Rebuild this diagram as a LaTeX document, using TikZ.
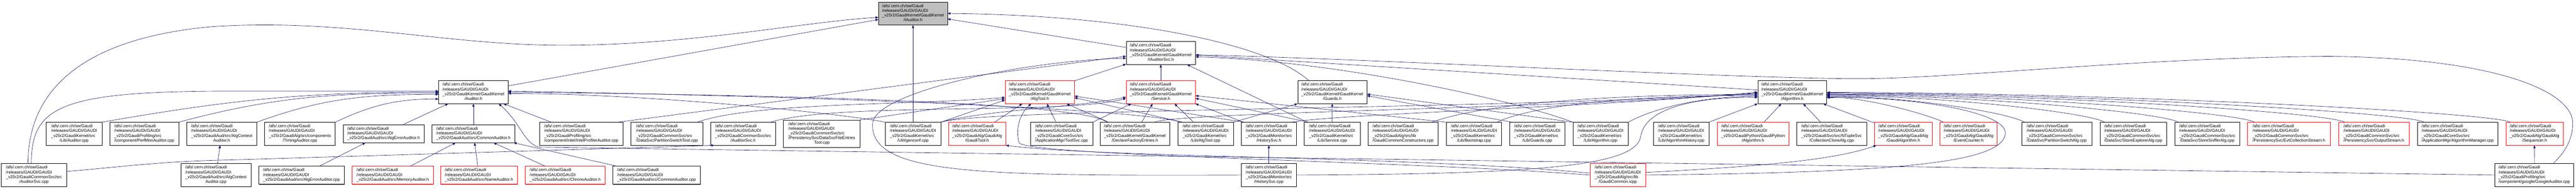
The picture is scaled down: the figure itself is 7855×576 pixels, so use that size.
\documentclass[tikz,border=0pt]{standalone}
\usepackage{fontspec}
\setmainfont{Liberation Sans}
\usetikzlibrary{arrows.meta,shadows}
\definecolor{edgeblue}{RGB}{25,25,112}
\definecolor{boxred}{RGB}{255,0,0}
\newcommand{\gfile}[2]{\begin{tabular}{@{}l@{}}/afs/.cern.ch/sw/Gaudi\\/releases/GAUDI/GAUDI\\\_v25r2/#1\\\multicolumn{1}{@{}c@{}}{#2}\end{tabular}}
\newcommand{\gshort}[1]{\begin{tabular}{@{}l@{}}/afs/.cern.ch/sw/Gaudi\\/releases/GAUDI/GAUDI\\\_v25r2/#1\end{tabular}}

\begin{document}
\begin{tikzpicture}[x=1pt, y=1pt,
        gbox/.style={fill=white, line width=0.8pt, inner sep=0pt, minimum height=70pt,
            font=\fontsize{12.8}{14.4}\selectfont},
        incl/.style={gbox, draw=black, drop shadow={shadow xshift=0.8pt, shadow yshift=-1.6pt, fill=black!60, opacity=1}},
        trunc/.style={gbox, draw=boxred, drop shadow={shadow xshift=0.8pt, shadow yshift=-1.6pt, fill=boxred!60, opacity=1}},
        cur/.style={incl, fill=black!25},
        tline/.style={minimum height=55pt},
        fline/.style={minimum height=84pt},
        dep/.style={draw=edgeblue, line width=1pt, -{Triangle[length=9pt, width=7pt]}}]
        \useasboundingbox (0,0) rectangle (7855,576);

        \node[cur, minimum width=210pt]   (iaud)     at (2784,535)   {\gfile{GaudiKernel/GaudiKernel}{/IAuditor.h}};
        \node[incl, minimum width=211pt]  (iasvc)    at (3539.5,414.5) {\gfile{GaudiKernel/GaudiKernel}{/IAuditorSvc.h}};

        \node[incl, minimum width=211pt]  (audh)     at (1443.5,295) {\gfile{GaudiKernel/GaudiKernel}{/Auditor.h}};
        \node[trunc, minimum width=211pt] (algtoolh) at (3170.5,295) {\gfile{GaudiKernel/GaudiKernel}{/AlgTool.h}};
        \node[trunc, minimum width=211pt] (svch)     at (3539.5,295) {\gfile{GaudiKernel/GaudiKernel}{/Service.h}};
        \node[incl, minimum width=211pt]  (guardsh)  at (4062.5,295) {\gfile{GaudiKernel/GaudiKernel}{/Guards.h}};
        \node[incl, minimum width=210pt]  (algh)     at (5465,295)   {\gfile{GaudiKernel/GaudiKernel}{/Algorithm.h}};

        \node[incl, minimum width=170pt]  (audcpp)   at (226,168)    {\gfile{GaudiKernel/src}{/Lib/Auditor.cpp}};
        \node[incl, minimum width=210pt]  (perfmon)  at (440,168)    {\gfile{GaudiProfiling/src}{/component/PerfMonAuditor.cpp}};
        \node[incl, minimum width=214pt]  (actxh)    at (676,168)    {\gfile{GaudiAud/src/AlgContext}{Auditor.h}};
        \node[incl, minimum width=215pt]  (timing)   at (914.5,168)  {\gfile{GaudiAlg/src/components}{/TimingAuditor.cpp}};
        \node[incl, tline, minimum width=247pt] (aerrh) at (1169.5,168.5) {\gshort{GaudiAud/src/AlgErrorAuditor.h}};
        \node[incl, tline, minimum width=253pt] (commonh) at (1443.5,168.5) {\gshort{GaudiAud/src/CommonAuditor.h}};
        \node[incl, minimum width=255pt]  (intel)    at (1772.5,168) {\gfile{GaudiProfiling/src}{/component/intel/IntelProfilerAuditor.cpp}};
        \node[incl, minimum width=220pt]  (pstool)   at (2034,168)   {\gfile{GaudiCommonSvc/src}{/DataSvc/PartitionSwitchTool.cpp}};
        \node[incl, minimum width=198pt]  (asvch)    at (2266,168)   {\gfile{GaudiCommonSvc/src}{/AuditorSvc.h}};
        \node[incl, fline, minimum width=234pt] (dsfe) at (2506,168) {\gfile{GaudiCommonSvc/src\\/PersistencySvc/DataSvcFileEntries}{Tool.cpp}};
        \node[incl, minimum width=170pt]  (genconf)  at (2784,168)   {\gfile{GaudiKernel/src}{/Util/genconf.cpp}};
        \node[trunc, minimum width=175pt] (gtoolh)   at (2979.5,168) {\gfile{GaudiAlg/GaudiAlg}{/GaudiTool.h}};
        \node[incl, minimum width=190pt]  (toolsvc)  at (3237,168)   {\gfile{GaudiCoreSvc/src}{/ApplicationMgr/ToolSvc.cpp}};
        \node[incl, minimum width=211pt]  (dfe)      at (3460.5,168) {\gfile{GaudiKernel/GaudiKernel}{/DeclareFactoryEntries.h}};
        \node[incl, minimum width=170pt]  (algtoolcpp) at (3676,168) {\gfile{GaudiKernel/src}{/Lib/AlgTool.cpp}};
        \node[incl, minimum width=168pt]  (histh)    at (3869,168)   {\gfile{GaudiMonitor/src}{/HistorySvc.h}};
        \node[incl, minimum width=170pt]  (svccpp)   at (4062,168)   {\gfile{GaudiKernel/src}{/Lib/Service.cpp}};
        \node[incl, minimum width=213pt]  (gcc)      at (4278.5,168) {\gfile{GaudiAlg/src/lib}{/GaudiCommonConstructors.cpp}};
        \node[incl, minimum width=169pt]  (boot)     at (4494.5,168) {\gfile{GaudiKernel/src}{/Lib/Bootstrap.cpp}};
        \node[incl, minimum width=169pt]  (guardscpp) at (4687.5,168) {\gfile{GaudiKernel/src}{/Lib/Guards.cpp}};
        \node[incl, minimum width=169pt]  (algcpp)   at (4880.5,168) {\gfile{GaudiKernel/src}{/Lib/Algorithm.cpp}};
        \node[incl, minimum width=169pt]  (ahist)    at (5126.5,168) {\gfile{GaudiKernel/src}{/Lib/AlgorithmHistory.cpp}};
        \node[trunc, minimum width=219pt] (gpyalg)   at (5345.5,168) {\gfile{GaudiPython/GaudiPython}{/Algorithm.h}};
        \node[incl, minimum width=214pt]  (ccalg)    at (5585,168)   {\gfile{GaudiSvc/src/NTupleSvc}{/CollectionCloneAlg.cpp}};
        \node[trunc, minimum width=175pt] (galgh)    at (5803.5,168) {\gfile{GaudiAlg/GaudiAlg}{/GaudiAlgorithm.h}};
        \node[trunc, minimum width=175pt] (evch)     at (6002.5,168) {\gfile{GaudiAlg/GaudiAlg}{/EventCounter.h}};
        \node[incl, minimum width=213pt]  (psalg)    at (6271.5,168) {\gfile{GaudiCommonSvc/src}{/DataSvc/PartitionSwitchAlg.cpp}};
        \node[incl, minimum width=204pt]  (sealg)    at (6505,168)   {\gfile{GaudiCommonSvc/src}{/DataSvc/StoreExplorerAlg.cpp}};
        \node[incl, minimum width=197pt]  (ssalg)    at (6730.5,168) {\gfile{GaudiCommonSvc/src}{/DataSvc/StoreSnifferAlg.cpp}};
        \node[trunc, minimum width=253pt] (ecsh)     at (6979.5,168) {\gfile{GaudiCommonSvc/src}{/PersistencySvc/EvtCollectionStream.h}};
        \node[trunc, minimum width=215pt] (osh)      at (7238.5,168) {\gfile{GaudiCommonSvc/src}{/PersistencySvc/OutputStream.h}};
        \node[incl, minimum width=246pt]  (amgr)     at (7494,168)   {\gfile{GaudiCoreSvc/src}{/ApplicationMgr/AlgorithmManager.cpp}};
        \node[trunc, minimum width=175pt] (seqh)     at (7728.5,168) {\gfile{GaudiAlg/GaudiAlg}{/Sequencer.h}};

        \node[incl, minimum width=199pt]  (asvccpp)  at (103.5,42)   {\gfile{GaudiCommonSvc/src}{/AuditorSvc.cpp}};
        \node[incl, minimum width=213pt]  (actxcpp)  at (658.5,42)   {\gfile{GaudiAud/src/AlgContext}{Auditor.cpp}};
        \node[incl, tline, minimum width=261pt]  (aerrcpp) at (919.5,41.5)  {\gshort{GaudiAud/src/AlgErrorAuditor.cpp}};
        \node[trunc, tline, minimum width=247pt] (memh)    at (1197.5,41.5) {\gshort{GaudiAud/src/MemoryAuditor.h}};
        \node[trunc, tline, minimum width=235pt] (nameh)   at (1460.5,41.5) {\gshort{GaudiAud/src/NameAuditor.h}};
        \node[trunc, tline, minimum width=243pt] (chronoh) at (1723.5,41.5) {\gshort{GaudiAud/src/ChronoAuditor.h}};
        \node[incl, tline, minimum width=266pt]  (commoncpp) at (2002,41.5) {\gshort{GaudiAud/src/CommonAuditor.cpp}};
        \node[incl, minimum width=168pt]  (histcpp)  at (3869,42)    {\gfile{GaudiMonitor/src}{/HistorySvc.cpp}};
        \node[trunc, minimum width=170pt] (gcommon)  at (4933,42)    {\gfile{GaudiAlg/src/lib}{/GaudiCommon.icpp}};
        \node[incl, minimum width=241pt]  (google)   at (7727.5,42)  {\gfile{GaudiProfiling/src}{/component/google/GoogleAuditor.cpp}};

        \draw[dep] (audh) -- (iaud);
        \draw[dep] ([xshift=-18pt]asvccpp.north) .. controls (85,300) and (250,460) .. (650,495) .. controls (1050,520) and (1350,440) .. (1700,438) .. controls (2100,436) and (2450,510) .. ([yshift=-12pt]iaud.west);
        \draw[dep] (iasvc) -- (iaud);
        \draw[dep] (genconf) -- (iaud);
        \draw[dep] ([xshift=-72pt]guardsh.north) .. controls (3870,440) and (3450,530) .. (iaud.east);

        \draw[dep] (algtoolh) -- (iasvc);
        \draw[dep] (svch) -- (iasvc);
        \draw[dep] ([xshift=-76pt]svccpp.north) -- ([xshift=80pt]iasvc.south);
        \draw[dep] ([xshift=112pt]intel.north) -- ([yshift=-10pt]iasvc.west);
        \draw[dep] (histcpp.west) .. controls (3000,40) and (2650,40) .. (2661,200) .. controls (2665,290) and (3100,390) .. ([yshift=-16pt]iasvc.west);
        \draw[dep] ([xshift=58pt]google.north) .. controls (7820,110) and (7845,150) .. (7845,200) .. controls (7845,300) and (7600,400) .. (7100,404) .. controls (6500,400) and (5950,334) .. (5650,336) .. controls (5250,338) and (4100,400) .. ([yshift=-6pt]iasvc.east);
        \draw[dep] (algcpp.north west) .. controls (4650,260) and (4100,390) .. ([yshift=-12pt]iasvc.east);
        \draw[dep] (algh) -- (iasvc);

        \draw[dep] (audcpp.north east) .. controls (710,273) and (935,295) .. (audh.west);
        \draw[dep] (perfmon.north east) .. controls (846,284) and (1026,292) .. ([yshift=-3pt]audh.west);
        \draw[dep] (actxh.north east) .. controls (989,278) and (1118,288) .. ([yshift=-7pt]audh.west);
        \draw[dep] (timing.north east) .. controls (1137,257) and (1211,274) .. ([yshift=-21pt]audh.west);
        \draw[dep] ([xshift=-8pt]asvccpp.north) .. controls (96,250) and (180,298) .. (700,298) -- ([yshift=3pt]audh.west);
        \draw[dep] (aerrh) -- (audh);
        \draw[dep] (commonh) -- (audh);
        \draw[dep] (intel) -- (audh);
        \draw[dep] (google.west) -- (1650,127) .. controls (1600,130) and (1590,200) .. ([xshift=77pt]audh.south);
        \draw[dep] (genconf.north west) .. controls (2600,225) and (2000,290) .. ([yshift=-4pt]audh.east);
        \draw[dep] ([xshift=-85pt]dfe.north) .. controls (3300,260) and (2500,285) .. (audh.east);
        \draw[dep] ([xshift=-77pt]algtoolcpp.north) .. controls (3500,240) and (2600,280) .. ([yshift=3pt]audh.east);

        \draw[dep] (gtoolh) -- (algtoolh);
        \draw[dep] (toolsvc) -- ([xshift=22pt]algtoolh.south);
        \draw[dep] (dfe) -- ([xshift=82pt]algtoolh.south);
        \draw[dep] ([xshift=-70pt]algtoolcpp.north) -- ([yshift=-17pt]algtoolh.east);
        \draw[dep] ([xshift=-76pt]histh.north) -- ([yshift=-12pt]algtoolh.east);
        \draw[dep] ([xshift=92pt]pstool.north) .. controls (2300,265) and (2800,255) .. ([yshift=-16pt]algtoolh.west);
        \draw[dep] (dsfe.north east) -- ([yshift=-20pt]algtoolh.west);
        \draw[dep] (genconf.north east) -- ([yshift=-24pt]algtoolh.west);
        \draw[dep] (gcommon.west) .. controls (4300,85) and (3140,100) .. (3108,140) .. controls (3095,180) and (3110,230) .. ([xshift=-26pt]algtoolh.south);

        \draw[dep] (toolsvc.north east) -- ([xshift=-90pt]svch.south);
        \draw[dep] (dfe) -- ([xshift=-25pt]svch.south);
        \draw[dep] (algtoolcpp) -- ([xshift=42pt]svch.south);
        \draw[dep] ([xshift=-78pt]histh.north) -- (svch.south east);
        \draw[dep] ([xshift=84pt]asvch.north) .. controls (2550,265) and (3250,225) .. ([yshift=-19pt]svch.west);
        \draw[dep] ([xshift=-72pt]svccpp.north) -- ([yshift=-19pt]svch.east);
        \draw[dep] (genconf.north east) .. controls (3000,240) and (3300,250) .. ([yshift=-15pt]svch.west);
        \draw[dep] (boot.north west) -- ([yshift=-11pt]svch.east);

        \draw[dep] (svccpp) -- (guardsh);
        \draw[dep] ([xshift=-78pt]guardscpp.north) -- ([yshift=-11pt]guardsh.east);
        \draw[dep] (algcpp.north west) -- ([yshift=-6pt]guardsh.east);
        \draw[dep] (algtoolcpp.north east) -- (guardsh.south west);

        \draw[dep] (ahist.north east) -- (algh.south west);
        \draw[dep] (gpyalg) -- (algh);
        \draw[dep] (ccalg) -- (algh);
        \draw[dep] (galgh) -- (algh);
        \draw[dep] ([xshift=-77pt]evch.north) .. controls (5891,223) and (5690,280) .. ([yshift=-15pt]algh.east);
        \draw[dep] ([xshift=-98pt]psalg.north) .. controls (6121,233) and (5820,282) .. ([yshift=-13pt]algh.east);
        \draw[dep] ([xshift=-87pt]sealg.north) .. controls (6366,233) and (5920,284) .. ([yshift=-11pt]algh.east);
        \draw[dep] ([xshift=-88pt]ssalg.north) .. controls (6590,233) and (6020,286) .. ([yshift=-9pt]algh.east);
        \draw[dep] ([xshift=-105pt]ecsh.north) .. controls (6822,233) and (6120,288) .. ([yshift=-7pt]algh.east);
        \draw[dep] ([xshift=-89pt]osh.north) .. controls (7097,233) and (6220,290) .. ([yshift=-5pt]algh.east);
        \draw[dep] ([xshift=-102pt]amgr.north) .. controls (7340,233) and (6320,292) .. ([yshift=-3pt]algh.east);
        \draw[dep] ([xshift=-75pt]seqh.north) .. controls (7601,233) and (6420,294) .. ([yshift=-1pt]algh.east);
        \draw[dep] (gcommon.east) .. controls (5800,50) and (6110,80) .. (6115,170) .. controls (6115,240) and (5800,283) .. ([yshift=-17pt]algh.east);
        \draw[dep] (histcpp.east) .. controls (4700,45) and (4990,70) .. (5003,160) .. controls (5015,240) and (5150,280) .. ([yshift=-16pt]algh.west);
        \draw[dep] (algcpp.north east) .. controls (5050,250) and (5200,282) .. ([yshift=-13pt]algh.west);
        \draw[dep] ([xshift=70pt]boot.north) .. controls (4700,265) and (5050,285) .. ([yshift=-10pt]algh.west);
        \draw[dep] ([xshift=88pt]gcc.north) .. controls (4550,270) and (5000,288) .. ([yshift=-7pt]algh.west);
        \draw[dep] (genconf.north east) .. controls (3000,245) and (4500,240) .. ([yshift=-4pt]algh.west);
        \draw[dep] ([xshift=60pt]dfe.north) .. controls (3600,235) and (4800,245) .. ([yshift=-2pt]algh.west);
        \draw[dep] ([xshift=70pt]histh.north) .. controls (4100,230) and (4900,250) .. (algh.west);

        \draw[dep] (aerrcpp) -- (aerrh);
        \draw[dep] (actxcpp) -- (actxh);
        \draw[dep] (memh) -- (commonh);
        \draw[dep] (nameh) -- (commonh);
        \draw[dep] (chronoh) -- (commonh);
        \draw[dep] (commoncpp) -- (commonh);
        \draw[dep] ([yshift=11pt]asvccpp.east) .. controls (350,65) and (500,85) .. (700,88) -- ([xshift=-88pt]asvch.south);
        \draw[dep] (histcpp) -- (histh);
        \draw[dep] ([yshift=6pt]gcommon.west) .. controls (4300,100) and (3350,95) .. (gtoolh.south east);
        \draw[dep] ([yshift=8pt]gcommon.east) .. controls (5400,70) and (5600,90) .. ([xshift=-82pt]galgh.south);
        \draw[dep] (google) -- (seqh);
\end{tikzpicture}
\end{document}
